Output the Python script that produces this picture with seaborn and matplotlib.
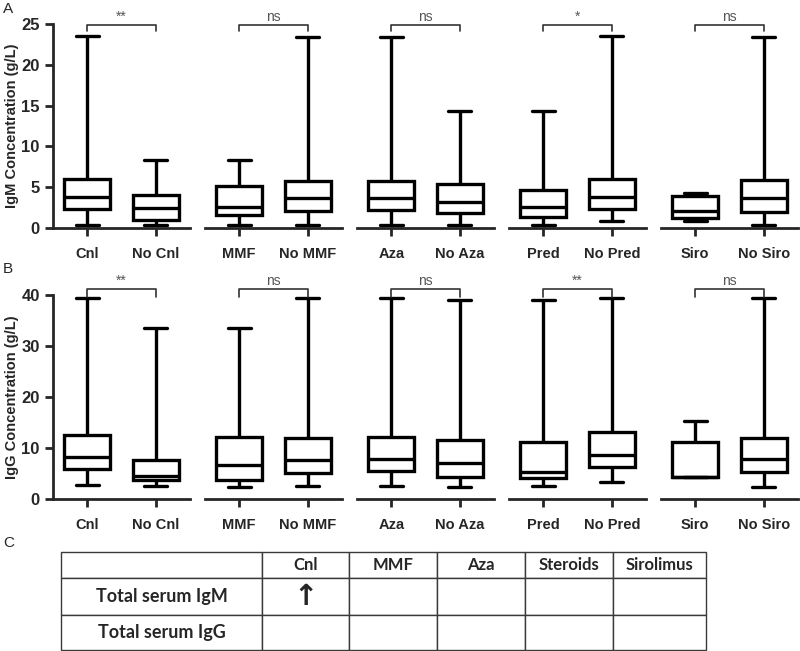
import numpy as np
import pandas as pd
import seaborn as sns
import matplotlib.pyplot as plt

# group pairs shown on the x axis
groups = ["Cnl", "No Cnl", "MMF", "No MMF", "Aza", "No Aza",
          "Pred", "No Pred", "Siro", "No Siro"]

# IgM (g/L) five-number summaries: min, q1, median, q3, max
igm_min = [0.4, 0.4, 0.4, 0.4, 0.4, 0.4, 0.4, 0.8, 0.9, 0.4]
igm_q1 = [2.3, 1.0, 1.6, 2.1, 2.2, 1.8, 1.4, 2.3, 1.2, 1.9]
igm_med = [3.8, 2.4, 2.6, 3.7, 3.7, 3.2, 2.6, 3.8, 2.1, 3.7]
igm_q3 = [6.0, 4.1, 5.1, 5.7, 5.7, 5.4, 4.7, 6.0, 3.9, 5.9]
igm_max = [23.5, 8.3, 8.3, 23.4, 23.4, 14.3, 14.3, 23.5, 4.3, 23.4]

# IgG (g/L) five-number summaries
igg_min = [2.8, 2.5, 2.3, 2.6, 2.6, 2.4, 2.5, 3.4, 4.3, 2.3]
igg_q1 = [5.9, 3.7, 3.7, 5.1, 5.4, 4.4, 4.1, 6.2, 4.3, 5.2]
igg_med = [8.3, 4.5, 6.7, 7.6, 7.8, 7.1, 5.2, 8.6, 4.3, 7.8]
igg_q3 = [12.5, 7.6, 12.2, 12.0, 12.2, 11.6, 11.2, 13.1, 11.2, 11.9]
igg_max = [39.5, 33.6, 33.6, 39.5, 39.5, 39.0, 39.0, 39.5, 15.2, 39.5]

# significance of each pair
igm_sig = ["**", "ns", "ns", "*", "ns"]
igg_sig = ["**", "ns", "ns", "**", "ns"]

# panel C table
table_cols = ["", "Cnl", "MMF", "Aza", "Steroids", "Sirolimus"]
table_rows = ["Total serum IgM", "Total serum IgG"]
table_marks = [["\u2191", "", "", "", ""], ["", "", "", "", ""]]


def long_df(mins, q1s, meds, q3s, maxs):
    # five values per group -> quartiles land exactly on them
    recs = []
    for g, a, b, c, d, e in zip(groups, mins, q1s, meds, q3s, maxs):
        for v in (a, b, c, d, e):
            recs.append((g, v))
    return pd.DataFrame(recs, columns=["group", "value"])


sns.set_style("ticks")
plt.rcParams['font.family'] = ['Liberation Sans', 'DejaVu Sans']

W, H = 800, 651
fig = plt.figure(figsize=(W / 100, H / 100), dpi=100)


def draw_panel(df, sig, top_px, bot_px, ymax, yticks, ylabel, br_y, br_leg):
    axes = []
    for i in range(5):
        left = (53 + i * 152) / W
        ax = fig.add_axes([left, 1 - bot_px / H, 137 / W, (bot_px - top_px) / H],
                          sharey=axes[0] if axes else None)
        pair = groups[2 * i:2 * i + 2]
        sub = df[df["group"].isin(pair)]
        sns.boxplot(data=sub, x="group", y="value", order=pair, ax=ax,
                    whis=(0, 100), width=0.67, color="white", linecolor="black",
                    linewidth=2.4, showfliers=False)
        ax.set_xlabel("")
        ax.set_ylabel("")
        ax.set_xlim(-0.5, 1.5)
        ax.set_ylim(0, ymax)
        for s in ("top", "right"):
            ax.spines[s].set_visible(False)
        ax.spines["bottom"].set_linewidth(2)
        ax.spines["left"].set_linewidth(2)
        ax.tick_params(axis="x", length=6, width=2, pad=8, labelsize=10.5)
        for lab in ax.get_xticklabels():
            lab.set_fontweight("bold")
        if i == 0:
            ax.set_yticks(yticks)
            ax.tick_params(axis="y", length=6, width=2, labelsize=12)
            for lab in ax.get_yticklabels():
                lab.set_fontweight("bold")
        else:
            ax.spines["left"].set_visible(False)
            ax.tick_params(axis="y", left=False, labelleft=False)
        # significance bracket
        ax.plot([0, 0, 1, 1], [br_leg, br_y, br_y, br_leg], color="#333333",
                lw=1.2, clip_on=False)
        ax.text(0.5, br_y + ymax * 0.004, sig[i], ha="center", va="bottom",
                fontsize=10, color="#555555", clip_on=False)
        axes.append(ax)
    fig.text(12 / W, 1 - (top_px + bot_px) / 2 / H, ylabel, rotation=90,
             ha="center", va="center", fontsize=10.5, fontweight="bold")
    return axes


igm = long_df(igm_min, igm_q1, igm_med, igm_q3, igm_max)
igg = long_df(igg_min, igg_q1, igg_med, igg_q3, igg_max)

draw_panel(igm, igm_sig, 24, 228, 25, [0, 5, 10, 15, 20, 25],
           "IgM Concentration (g/L)", 24.9, 24.1)
draw_panel(igg, igg_sig, 295, 499, 40, [0, 10, 20, 30, 40],
           "IgG Concentration (g/L)", 41.2, 39.6)

fig.text(3 / W, 1 - 2 / H, "A", fontsize=11, ha="left", va="top")
fig.text(3 / W, 1 - 262 / H, "B", fontsize=11, ha="left", va="top")
fig.text(3 / W, 1 - 536 / H, "C", fontsize=11, ha="left", va="top")

# panel C table
ax_t = fig.add_axes([61 / W, 1 - 650 / H, (706 - 61) / W, (650 - 552) / H])
ax_t.axis("off")
cell_text = [table_cols] + [[r] + m for r, m in zip(table_rows, table_marks)]
col_w = [201, 87, 88, 88, 88, 93]
tbl = ax_t.table(cellText=cell_text, colWidths=[c / sum(col_w) for c in col_w],
                 cellLoc="center", bbox=[0, 0, 1, 1])
tbl.auto_set_font_size(False)
row_h = [27, 37, 36]
for (r, c), cell in tbl.get_celld().items():
    cell.set_height(row_h[r] / 100)
    cell.set_edgecolor("#3a3a3a")
    cell.set_linewidth(1.0)
    t = cell.get_text()
    if r == 0:
        t.set_fontsize(12)
        t.set_fontweight("bold")
        t.set_fontfamily(["Lato", "DejaVu Sans"])
    elif c == 0:
        t.set_fontsize(13)
        t.set_fontweight("bold")
        t.set_fontfamily(["Lato", "DejaVu Sans"])
    else:
        t.set_fontsize(21)
        t.set_fontweight("bold")
        t.set_fontfamily(["DejaVu Sans"])

plt.savefig("out.png", dpi=100)
